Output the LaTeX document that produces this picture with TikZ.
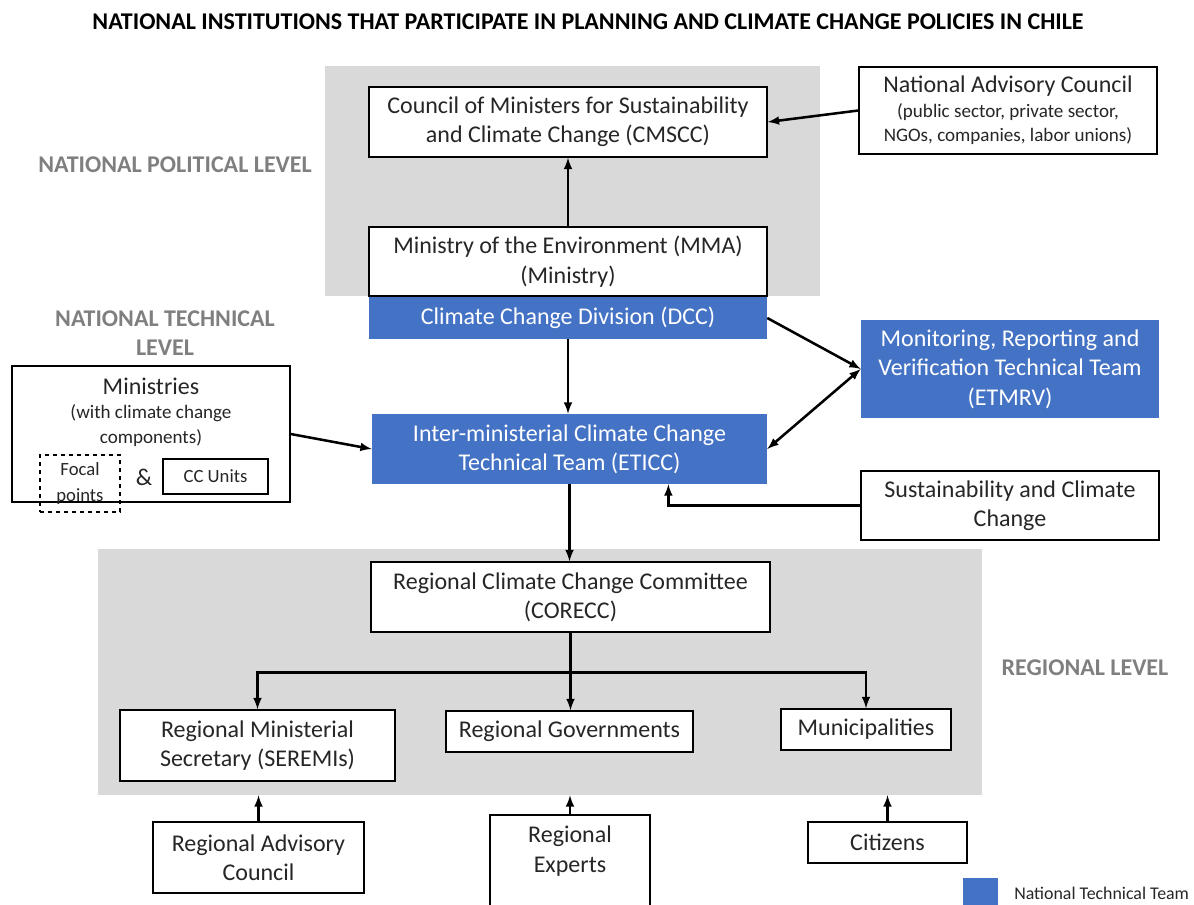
\documentclass[tikz,border=0pt]{standalone}
\usepackage{fontspec}
\setmainfont{Carlito}
\usetikzlibrary{positioning,calc}

\definecolor{teamblue}{HTML}{4472C4}
\definecolor{panelgray}{HTML}{D9D9D9}
\definecolor{levelgray}{HTML}{7F7F7F}
\definecolor{inktext}{HTML}{262626}

\begin{document}
\begin{tikzpicture}
  [ x=0.75pt, y=-0.75pt,
    arr/.style={-latex, line width=1.9pt},
    twoarr/.style={latex-latex, line width=1.9pt}]
  \tikzset{
    base/.style={
      align=center,
      inner sep=0pt,
      text=inktext,
      font=\fontsize{18pt}{22pt}\selectfont,
    },
    inst/.style={
      base,
      rectangle,
      draw=black, line width=1.1pt,
      fill=white,
    },
    team/.style={
      base,
      rectangle,
      fill=teamblue,
      text=white,
    },
    panel/.style={
      rectangle,
      fill=panelgray,
      inner sep=0pt,
    },
    level/.style={
      base,
      text=levelgray,
      font=\fontsize{18pt}{22pt}\selectfont\bfseries,
    },
    tight/.style={
      font=\fontsize{18pt}{18.5pt}\selectfont,
    },
    small/.style={
      font=\fontsize{14pt}{19pt}\selectfont,
    },
  }
  \newcommand\subline{\fontsize{14.3pt}{17pt}\selectfont}
  \useasboundingbox (0,0) rectangle (1194,904);

  \node[panel, minimum width=371.25pt, minimum height=172.5pt] (polpanel) at (572.5,181) {};
  \node[panel, minimum width=663pt, minimum height=184.5pt] (regpanel) at (540,672) {};

  \node[base, font=\fontsize{18pt}{22pt}\selectfont\bfseries, text=black] (title) at (588,22)
    {NATIONAL INSTITUTIONS THAT PARTICIPATE IN PLANNING AND CLIMATE CHANGE POLICIES IN CHILE};

  \node[level] (polit) at (175,165) {NATIONAL POLITICAL LEVEL};
  \node[level] (techn) at (165,333) {NATIONAL TECHNICAL\\LEVEL};
  \node[level] (regio) at (1085,668) {REGIONAL LEVEL};

  \node[inst, minimum width=298.5pt, minimum height=52.5pt] (cmscc) at (568,122)
    {Council of Ministers for Sustainability\\and Climate Change (CMSCC)};
  \node[inst, tight, minimum width=223.5pt, minimum height=65.25pt] (nac) at (1008,110.5)
    {National Advisory Council\\{\subline (public sector, private sector,}\\{\subline NGOs, companies, labor unions)}};
  \node[inst, minimum width=298.5pt, minimum height=51.75pt] (mma) at (568,261.5)
    {Ministry of the Environment (MMA)\\(Ministry)};
  \node[team, minimum width=298.5pt, minimum height=31.5pt, below=0pt of mma] (dcc)
    {Climate Change Division (DCC)};
  \node[team, minimum width=296.25pt, minimum height=52.5pt] (eticc) at (569.5,449)
    {Inter-ministerial Climate Change\\Technical Team (ETICC)};
  \node[team, minimum width=223.5pt, minimum height=73.5pt] (etmrv) at (1010,369)
    {Monitoring, Reporting and\\Verification Technical Team\\(ETMRV)};
  \node[inst, minimum width=223.5pt, minimum height=51.75pt] (sus) at (1010,505.5)
    {Sustainability and Climate\\Change};

  \node[inst, minimum width=208.5pt, minimum height=102pt] (min) at (151,434) {};
  \node[base, tight] (mintxt) at (151,412)
    {Ministries\\{\subline (with climate change}\\{\subline components)}};
  \node[inst, small, dashed, fill=none, minimum width=60pt, minimum height=42.75pt] (focal) at (80,483.5)
    {Focal\\points};
  \node[base] (amp) at (144,477) {\&};
  \node[inst, small, minimum width=78.75pt, minimum height=26.25pt] (ccu) at (215.5,476.5) {CC Units};

  \node[inst, minimum width=299.25pt, minimum height=52.5pt] (corecc) at (570.5,597)
    {Regional Climate Change Committee\\(CORECC)};
  \node[inst, minimum width=206.25pt, minimum height=53.25pt] (seremi) at (257.5,745.5)
    {Regional Ministerial\\Secretary (SEREMIs)};
  \node[inst, minimum width=185.25pt, minimum height=30.75pt] (rgov) at (569.5,731.5)
    {Regional Governments};
  \node[inst, minimum width=127.5pt, minimum height=30.75pt] (muni) at (866,729.5)
    {Municipalities};

  \node[inst, minimum width=158.25pt, minimum height=53.25pt] (rac) at (258.5,857.5)
    {Regional Advisory\\Council};
  \node[inst, minimum width=120pt, minimum height=90pt] (rexp) at (570,875) {};
  \node[base] (rexptxt) at (570,851) {Regional\\Experts};
  \node[inst, minimum width=119.25pt, minimum height=30.75pt] (cit) at (887.5,842.5)
    {Citizens};

  \node[team, minimum width=26.25pt, minimum height=26.25pt, anchor=north] (legbox) at (980.5,878) {};
  \node[base, font=\fontsize{13.4pt}{16pt}\selectfont, anchor=west] (legtxt) at (1014,893) {National Technical Team};

  \draw[arr] (mma) -- (cmscc);
  \draw[arr] (nac.west) -- (cmscc.east);
  \draw[arr] (dcc.south) -- (dcc.south |- eticc.north);
  \draw[arr] (dcc.east) -- (etmrv.west);
  \draw[twoarr] (eticc.east) -- (etmrv.west);
  \draw[arr] (min.east) -- (eticc.west);
  \draw[arr] (sus.west) -| ($(eticc.south)!0.5!(eticc.south east)$);
  \draw[arr] (eticc.south) -- (eticc.south |- corecc.north);

  \draw[arr] (corecc.south) -- ++(0,40) -| (seremi.north);
  \draw[arr] (corecc.south) -- ++(0,40) -| (muni.north);
  \draw[arr] (corecc.south) -- (corecc.south |- rgov.north);

  \draw[arr] (rac.north) -- (rac.north |- regpanel.south);
  \draw[arr] (rexp.north) -- (rexp.north |- regpanel.south);
  \draw[arr] (cit.north) -- (cit.north |- regpanel.south);
\end{tikzpicture}
\end{document}
